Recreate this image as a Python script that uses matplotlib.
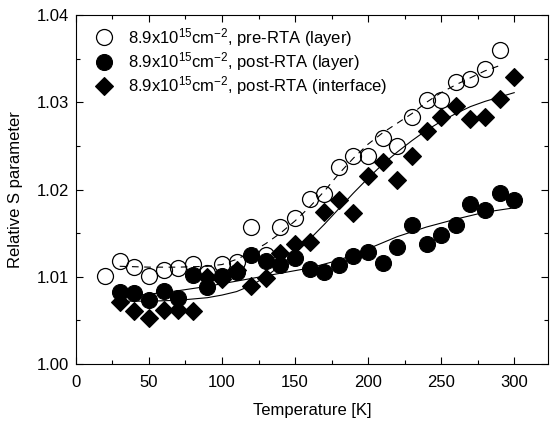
import matplotlib
matplotlib.use("Agg")
import matplotlib.pyplot as plt
from matplotlib.ticker import MultipleLocator, FormatStrFormatter

plt.rcParams["font.family"] = ["Liberation Sans", "DejaVu Sans"]
plt.rcParams["mathtext.default"] = "regular"

# --- data ------------------------------------------------------------------
temp_pre = [20, 30, 40, 50, 60, 70, 80, 90, 100, 110, 120, 130, 140, 150,
            160, 170, 180, 190, 200, 210, 220, 230, 240, 250, 260, 270, 280, 290]
s_pre = [1.0101, 1.0118, 1.0111, 1.0101, 1.0108, 1.0110, 1.0115, 1.0104,
         1.0115, 1.0117, 1.0157, 1.0125, 1.0157, 1.0167, 1.0189, 1.0195,
         1.0226, 1.0238, 1.0238, 1.0259, 1.0250, 1.0283, 1.0303, 1.0303,
         1.0323, 1.0327, 1.0338, 1.0360]

temp_post = [30, 40, 50, 60, 70, 80, 90, 100, 110, 120, 130, 140, 150, 160,
             170, 180, 190, 200, 210, 220, 230, 240, 250, 260, 270, 280, 290, 300]
s_post_layer = [1.0082, 1.0081, 1.0073, 1.0084, 1.0076, 1.0102, 1.0088,
                1.0101, 1.0105, 1.0125, 1.0118, 1.0114, 1.0122, 1.0109,
                1.0106, 1.0113, 1.0124, 1.0128, 1.0116, 1.0134, 1.0159,
                1.0137, 1.0148, 1.0159, 1.0183, 1.0176, 1.0196, 1.0188]
s_post_iface = [1.0071, 1.0061, 1.0053, 1.0062, 1.0062, 1.0061, 1.0100,
                1.0097, 1.0108, 1.0089, 1.0098, 1.0127, 1.0138, 1.0140,
                1.0174, 1.0188, 1.0173, 1.0215, 1.0231, 1.0211, 1.0238,
                1.0267, 1.0283, 1.0296, 1.0281, 1.0283, 1.0304, 1.0329]

# fit curves
fit_pre_t = [30, 50, 70, 90, 100, 110, 120, 130, 140, 150, 160, 170, 180,
             190, 200, 210, 220, 230, 240, 250, 260, 270, 280, 290]
fit_pre_s = [1.0112, 1.0111, 1.0111, 1.0112, 1.0114, 1.0120, 1.0128, 1.0138,
             1.0150, 1.0164, 1.0180, 1.0198, 1.0218, 1.0236, 1.0252, 1.0265,
             1.0276, 1.0287, 1.0300, 1.0311, 1.0320, 1.0328, 1.0336, 1.0342]

fit_layer_t = [30, 50, 70, 90, 100, 120, 140, 160, 180, 200, 220, 240, 260,
               280, 300]
fit_layer_s = [1.0077, 1.0080, 1.0084, 1.0089, 1.0092, 1.0098, 1.0104,
               1.0110, 1.0119, 1.0132, 1.0146, 1.0157, 1.0166, 1.0174, 1.0179]

fit_iface_t = [30, 50, 70, 90, 100, 110, 120, 130, 140, 150, 160, 170, 180,
               190, 200, 210, 220, 230, 240, 250, 260, 270, 280, 290, 300]
fit_iface_s = [1.0072, 1.0072, 1.0073, 1.0076, 1.0079, 1.0083, 1.0090,
               1.0100, 1.0113, 1.0127, 1.0143, 1.0160, 1.0178, 1.0196,
               1.0213, 1.0229, 1.0243, 1.0256, 1.0268, 1.0278, 1.0287,
               1.0295, 1.0301, 1.0306, 1.0311]

labels = [r"8.9x10$^{15}$cm$^{-2}$, pre-RTA (layer)",
          r"8.9x10$^{15}$cm$^{-2}$, post-RTA (layer)",
          r"8.9x10$^{15}$cm$^{-2}$, post-RTA (interface)"]

# ---------------------------------------------------------------------------
fig = plt.figure(figsize=(5.5, 4.23), dpi=100)
ax = fig.add_axes([0.138, 0.1395, 0.858, 0.825])

ax.plot(fit_pre_t, fit_pre_s, color="k", lw=0.8, ls=(0, (6, 5)), zorder=1)
ax.plot(fit_layer_t, fit_layer_s, color="k", lw=0.8, zorder=1)
ax.plot(fit_iface_t, fit_iface_s, color="k", lw=0.8, zorder=1)

ax.plot(temp_post, s_post_layer, "o", ms=11.5, mfc="k", mec="k", mew=0.8,
        ls="none", label=labels[1], zorder=2)
ax.plot(temp_post, s_post_iface, "D", ms=9, mfc="k", mec="k", mew=0.8,
        ls="none", label=labels[2], zorder=3)
ax.plot(temp_pre, s_pre, "o", ms=11.5, mfc="none", mec="k", mew=0.9,
        ls="none", label=labels[0], zorder=4)

ax.set_xlim(0, 323)
ax.set_ylim(1.00, 1.04)
ax.xaxis.set_major_locator(MultipleLocator(50))
ax.xaxis.set_minor_locator(MultipleLocator(25))
ax.yaxis.set_major_locator(MultipleLocator(0.01))
ax.yaxis.set_minor_locator(MultipleLocator(0.005))
ax.yaxis.set_major_formatter(FormatStrFormatter("%.2f"))
ax.tick_params(which="both", direction="in", top=True, right=True,
               labelsize=12, width=0.8)
ax.tick_params(which="major", length=5)
ax.tick_params(which="minor", length=3)
ax.tick_params(axis="x", which="major", pad=8)
ax.tick_params(axis="y", which="major", pad=5)
for sp in ax.spines.values():
    sp.set_linewidth(0.8)

ax.set_xlabel("Temperature [K]", fontsize=12, labelpad=9)
ax.set_ylabel("Relative S parameter", fontsize=12, labelpad=10)

h, l = ax.get_legend_handles_labels()
order = [2, 0, 1]
ax.legend([h[i] for i in order], [l[i] for i in order], loc="upper left",
          frameon=False, fontsize=12, handlelength=1.2, handletextpad=0.8,
          labelspacing=0.08, borderaxespad=0.0, bbox_to_anchor=(0.025, 0.988))

fig.savefig("out.png", dpi=100)
